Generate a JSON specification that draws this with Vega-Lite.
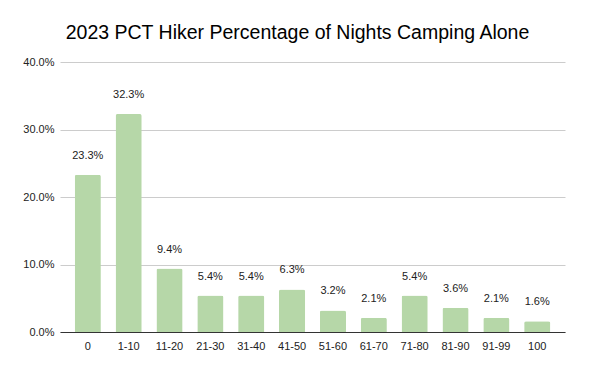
{
  "$schema": "https://vega.github.io/schema/vega-lite/v6.json",
  "autosize": "none",
  "width": 505,
  "height": 270,
  "padding": {"left": 60, "top": 62, "right": 35, "bottom": 39},
  "background": "white",
  "title": {
    "text": "2023 PCT Hiker Percentage of Nights Camping Alone",
    "font": "Liberation Sans",
    "fontSize": 19.5,
    "fontWeight": "normal",
    "color": "#000000",
    "anchor": "middle",
    "dx": -15,
    "offset": 13
  },
  "data": {
    "values": [
      {"range": "0", "pct": 0.233},
      {"range": "1-10", "pct": 0.323},
      {"range": "11-20", "pct": 0.094},
      {"range": "21-30", "pct": 0.054},
      {"range": "31-40", "pct": 0.054},
      {"range": "41-50", "pct": 0.063},
      {"range": "51-60", "pct": 0.032},
      {"range": "61-70", "pct": 0.021},
      {"range": "71-80", "pct": 0.054},
      {"range": "81-90", "pct": 0.036},
      {"range": "91-99", "pct": 0.021},
      {"range": "100", "pct": 0.016}
    ]
  },
  "encoding": {
    "x": {
      "field": "range",
      "type": "nominal",
      "sort": null,
      "scale": {"paddingInner": 0.36, "paddingOuter": 0.36},
      "axis": {
        "title": null,
        "labelAngle": 0,
        "labelFont": "Liberation Sans",
        "labelFontSize": 11,
        "labelColor": "#222222",
        "labelPadding": 8,
        "ticks": false,
        "domainColor": "#333333",
        "grid": false
      }
    },
    "y": {
      "field": "pct",
      "type": "quantitative",
      "scale": {"domain": [0, 0.4]},
      "axis": {
        "title": null,
        "format": ".1%",
        "values": [0, 0.1, 0.2, 0.3, 0.4],
        "labelFont": "Liberation Sans",
        "labelFontSize": 11,
        "labelColor": "#222222",
        "labelPadding": 6,
        "ticks": false,
        "domain": false,
        "gridColor": "#cccccc"
      }
    }
  },
  "layer": [
    {
      "mark": {"type": "bar", "color": "#b6d7a8", "cornerRadiusTopLeft": 2, "cornerRadiusTopRight": 2}
    },
    {
      "mark": {"type": "text", "font": "Liberation Sans", "fontSize": 11, "color": "#222222", "baseline": "middle", "dy": -19},
      "encoding": {
        "text": {"field": "pct", "type": "quantitative", "format": ".1%"}
      }
    }
  ],
  "config": {"view": {"stroke": null}}
}
